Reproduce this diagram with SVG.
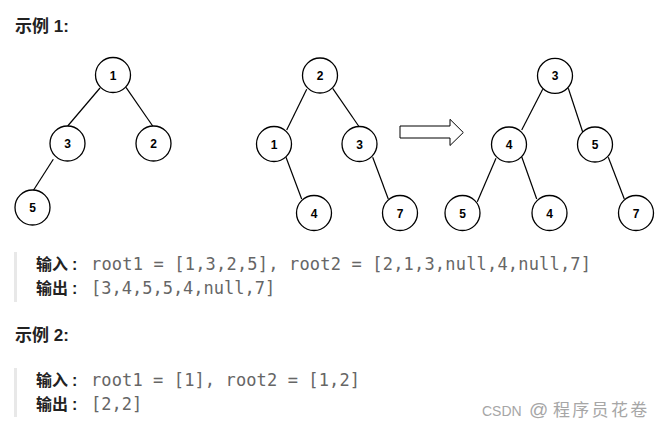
<svg xmlns="http://www.w3.org/2000/svg" width="668" height="434" viewBox="0 0 668 434">
<style>
.node circle{fill:#fff;stroke:#000;stroke-width:1.3}
.node text{font-family:"Liberation Sans",Arial,sans-serif;font-weight:bold;font-size:12px;fill:#000;text-anchor:middle}
#edges line{stroke:#000;stroke-width:1.2}
.title{font-family:"Liberation Sans","Noto Sans CJK SC",sans-serif;font-weight:bold;font-size:17px;fill:#222}
.lbl{font-family:"Noto Sans CJK SC","Liberation Sans",sans-serif;font-weight:bold;font-size:16px;fill:#222}
.colon{font-family:"Liberation Sans",Arial,sans-serif;font-weight:bold;font-size:16px;fill:#222}
.code{font-family:"DejaVu Sans Mono","Liberation Mono",monospace;font-size:17px;fill:#666}
.bar{fill:#e8e8e8}
.wm{font-family:"Liberation Sans","Noto Sans CJK SC",sans-serif;fill:#a6a6a6}
</style>
<rect width="668" height="434" fill="#fff"/>
<text class="title" x="15" y="32">示例 1:</text>
<g id="edges">
<line x1="100" y1="88" x2="67.7" y2="126"/>
<line x1="126" y1="87.3" x2="152.7" y2="126"/>
<line x1="53.3" y1="159.3" x2="33.3" y2="190.5"/>
<line x1="306.7" y1="89.3" x2="286.7" y2="130"/>
<line x1="332.7" y1="88.3" x2="359.3" y2="127"/>
<line x1="286" y1="157.3" x2="301.7" y2="199"/>
<line x1="372.7" y1="157.3" x2="388.3" y2="199"/>
<line x1="542.7" y1="89.3" x2="521.7" y2="130"/>
<line x1="568.3" y1="88.3" x2="582.7" y2="132"/>
<line x1="496" y1="158.3" x2="477.3" y2="201.7"/>
<line x1="521.7" y1="156.7" x2="536.7" y2="199"/>
<line x1="608.3" y1="157.3" x2="624.3" y2="199"/>
</g>
<g id="t1n1" class="node"><circle cx="113" cy="75" r="17.5"/><text x="113" y="79.5">1</text></g>
<g id="t1n3" class="node"><circle cx="67.5" cy="143.5" r="17.5"/><text x="67.5" y="148">3</text></g>
<g id="t1n2" class="node"><circle cx="153.5" cy="143.5" r="17.5"/><text x="153.5" y="148">2</text></g>
<g id="t1n5" class="node"><circle cx="32.5" cy="207.5" r="17.5"/><text x="32.5" y="212">5</text></g>
<g id="t2n2" class="node"><circle cx="320" cy="75.5" r="17.5"/><text x="320" y="80">2</text></g>
<g id="t2n1" class="node"><circle cx="274" cy="144" r="17.5"/><text x="274" y="148.5">1</text></g>
<g id="t2n3" class="node"><circle cx="359.5" cy="144" r="17.5"/><text x="359.5" y="148.5">3</text></g>
<g id="t2n4" class="node"><circle cx="314" cy="213" r="17.5"/><text x="314" y="217.5">4</text></g>
<g id="t2n7" class="node"><circle cx="400" cy="213" r="17.5"/><text x="400" y="217.5">7</text></g>
<g id="arrow"><polygon points="400,126 450,126 450,119.3 463.3,132.5 450,145.5 450,138 400,138" fill="#fff" stroke="#000" stroke-width="1"/></g>
<g id="t3n3" class="node"><circle cx="555" cy="75.8" r="17.5"/><text x="555" y="80.3">3</text></g>
<g id="t3n4" class="node"><circle cx="509" cy="144.5" r="17.5"/><text x="509" y="149">4</text></g>
<g id="t3n5" class="node"><circle cx="595" cy="144.5" r="17.5"/><text x="595" y="149">5</text></g>
<g id="t3n5b" class="node"><circle cx="462.5" cy="213" r="17.5"/><text x="462.5" y="217.5">5</text></g>
<g id="t3n4b" class="node"><circle cx="549.5" cy="213" r="17.5"/><text x="549.5" y="217.5">4</text></g>
<g id="t3n7" class="node"><circle cx="636" cy="213" r="17.5"/><text x="636" y="217.5">7</text></g>
<rect class="bar" x="14" y="252" width="3" height="50"/>
<text class="lbl" x="36" y="269.5">输入<tspan class="colon" x="72">:</tspan></text>
<text class="code" x="91" y="269.5" textLength="500" lengthAdjust="spacing" xml:space="preserve">root1 = [1,3,2,5], root2 = [2,1,3,null,4,null,7]</text>
<text class="lbl" x="36" y="293.5">输出<tspan class="colon" x="72">:</tspan></text>
<text class="code" x="91" y="293.5">[3,4,5,5,4,null,7]</text>
<text class="title" x="15" y="341">示例 2:</text>
<rect class="bar" x="14" y="368" width="3" height="49"/>
<text class="lbl" x="36" y="386">输入<tspan class="colon" x="72">:</tspan></text>
<text class="code" x="91" y="386" textLength="269" lengthAdjust="spacing" xml:space="preserve">root1 = [1], root2 = [1,2]</text>
<text class="lbl" x="36" y="409.5">输出<tspan class="colon" x="72">:</tspan></text>
<text class="code" x="91" y="409.5">[2,2]</text>
<text class="wm" x="482" y="416" font-size="14">CSDN <tspan x="529" font-size="19">@</tspan><tspan x="553" font-size="17" letter-spacing="2.3">程序员花卷</tspan></text>
</svg>
